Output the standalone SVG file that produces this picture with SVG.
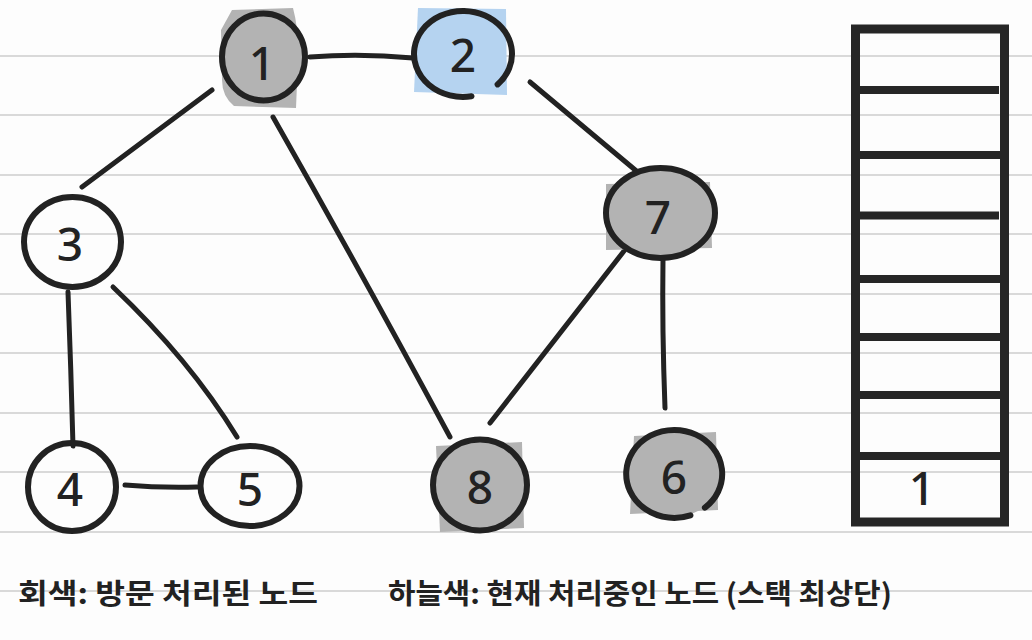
<svg xmlns="http://www.w3.org/2000/svg" width="1032" height="640" viewBox="0 0 1032 640">
<style>
.ruled{stroke:#d9d9d9;stroke-width:2}
.edge{fill:none;stroke:#222;stroke-width:5;stroke-linecap:round}
.ring{fill:none;stroke:#222;stroke-width:6;stroke-linecap:round}
.gray{fill:#b3b3b3}
.blue{fill:#b5d3f0}
.num{font-family:"Noto Sans","Liberation Sans",sans-serif;font-size:46px;font-weight:500;fill:#222;text-anchor:middle;dominant-baseline:central}
.cap{font-family:"Noto Sans CJK KR",sans-serif;font-size:28px;font-weight:bold;fill:#222}
.stack{fill:none;stroke:#262626;stroke-width:9}
.cell{stroke:#262626;stroke-width:8}
</style>
<rect x="0" y="0" width="1032" height="640" fill="#fdfdfd"/>
<g id="paper">
<line class="ruled" x1="0" y1="56" x2="1032" y2="56"/>
<line class="ruled" x1="0" y1="115" x2="1032" y2="115"/>
<line class="ruled" x1="0" y1="175" x2="1032" y2="175"/>
<line class="ruled" x1="0" y1="234" x2="1032" y2="234"/>
<line class="ruled" x1="0" y1="294" x2="1032" y2="294"/>
<line class="ruled" x1="0" y1="353" x2="1032" y2="353"/>
<line class="ruled" x1="0" y1="413" x2="1032" y2="413"/>
<line class="ruled" x1="0" y1="472" x2="1032" y2="472"/>
<line class="ruled" x1="0" y1="532" x2="1032" y2="532"/>
<line class="ruled" x1="0" y1="591" x2="1032" y2="591"/>
</g>
<g id="connectors">
<path class="edge" d="M310,57 Q360,53 413,58"/>
<path class="edge" d="M212,90 L82,187"/>
<path class="edge" d="M273,117 Q360,270 450,437"/>
<path class="edge" d="M530,82 L640,174"/>
<path class="edge" d="M624,251 L490,423"/>
<path class="edge" d="M663,258 Q662,330 665,408"/>
<path class="edge" d="M68,292 Q71,370 73,446"/>
<path class="edge" d="M113,287 Q190,360 237,437"/>
<path class="edge" d="M125,485 Q160,488 197,487"/>
</g>
<g id="node-1">
<path class="gray" d="M232,10 L293,8 Q299,30 298,60 L296,108 L234,106 Q222,96 222,80 L221,30 Z"/>
<ellipse class="gray" cx="263" cy="57" rx="41" ry="44"/>
<ellipse class="ring" cx="263.5" cy="57" rx="41.5" ry="43.5"/>
<text class="num" x="262" y="62">1</text>
</g>
<g id="node-2">
<path class="blue" d="M418,8 L506,9 L507,95 L414,92 Z"/>
<path class="ring" d="M471.5,96.3 A49 43 0 1 1 497.6,84.4"/>
<text class="num" x="463" y="54">2</text>
</g>
<g id="node-3">
<ellipse class="ring" cx="72.5" cy="242" rx="48.5" ry="45"/>
<text class="num" x="70" y="243">3</text>
</g>
<g id="node-7">
<path class="gray" d="M606,184 L710,182 L712,248 L606,250 Z"/>
<ellipse class="gray" cx="660" cy="213" rx="54" ry="45"/>
<ellipse class="ring" cx="660.5" cy="213" rx="54.5" ry="45"/>
<text class="num" x="658" y="216">7</text>
</g>
<g id="node-4">
<ellipse class="ring" cx="72" cy="487" rx="44" ry="44"/>
<text class="num" x="70" y="488">4</text>
</g>
<g id="node-5">
<ellipse class="ring" cx="250" cy="486" rx="49.5" ry="40"/>
<text class="num" x="250" y="488">5</text>
</g>
<g id="node-8">
<path class="gray" d="M436,446 L522,442 L524,528 L440,532 Z"/>
<ellipse class="gray" cx="480" cy="485" rx="47" ry="46"/>
<ellipse class="ring" cx="480" cy="485" rx="47" ry="45.5"/>
<text class="num" x="480" y="486">8</text>
</g>
<g id="node-6">
<path class="gray" d="M634,436 L716,432 L718,510 L630,514 Z"/>
<ellipse class="gray" cx="674" cy="474" rx="47" ry="43"/>
<path class="ring" d="M690.4,515.3 A48 44 0 1 1 704.9,507.7"/>
<text class="num" x="674" y="476">6</text>
</g>
<g id="stack">
<rect class="stack" x="855.5" y="29" width="149" height="493"/>
<line class="cell" x1="860" y1="90" x2="999" y2="90"/>
<line class="cell" x1="860" y1="155" x2="1000" y2="155"/>
<line class="cell" x1="860" y1="215.5" x2="999" y2="215.5"/>
<line class="cell" x1="860" y1="279" x2="1000" y2="279"/>
<line class="cell" x1="860" y1="337" x2="1000" y2="337"/>
<line class="cell" x1="860" y1="395" x2="1000" y2="395"/>
<line class="cell" x1="860" y1="456" x2="1000" y2="456"/>
<text class="num" x="922" y="487">1</text>
</g>
<g id="legend">
<text class="cap" x="18" y="604" textLength="300" lengthAdjust="spacingAndGlyphs">회색: 방문 처리된 노드</text>
<text class="cap" x="388" y="604" textLength="504" lengthAdjust="spacingAndGlyphs">하늘색: 현재 처리중인 노드 (스택 최상단)</text>
</g>
</svg>
